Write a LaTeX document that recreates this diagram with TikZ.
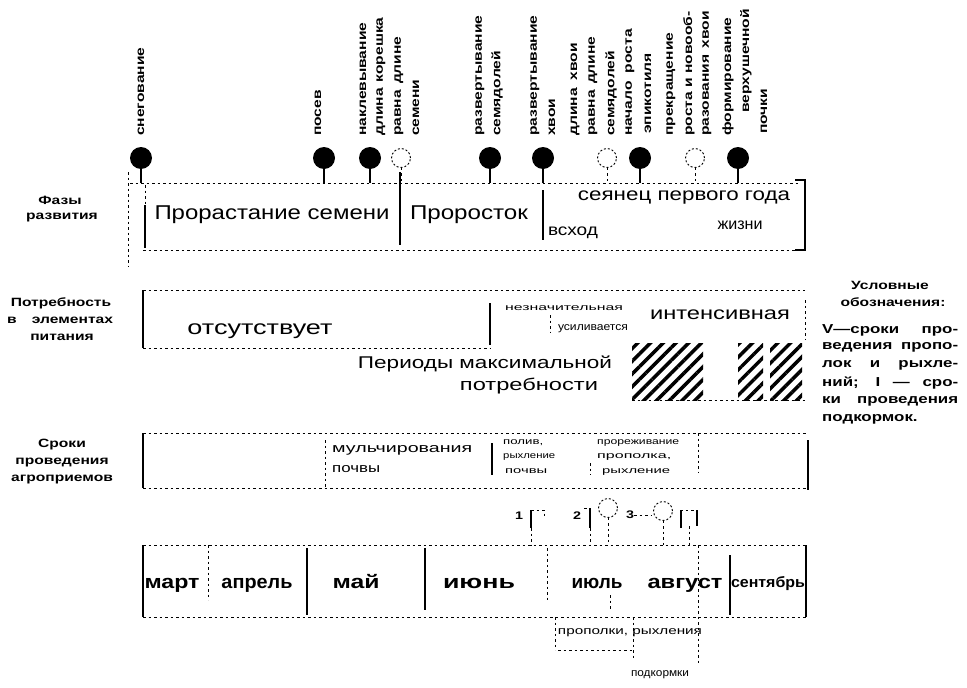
\documentclass[tikz,border=0pt]{standalone}
\usepackage{fontspec}
\setmainfont{Liberation Sans}
\newfontfamily\labf[FakeStretch=1.3]{Liberation Sans}
\usetikzlibrary{patterns.meta}
\newcommand\fw[2]{\resizebox{#1}{\height}{#2}}
\newcommand\fsz[1]{\fontsize{#1}{#1}\selectfont}
\tikzset{
  lab/.style={font=\labf\bfseries\fsz{12}, inner sep=0pt},
  leg/.style={font=\labf\bfseries\fsz{13}, inner sep=0pt, anchor=west},
  rot/.style={lab, rotate=90, anchor=west},
  txt/.style={inner sep=0pt, anchor=base},
  txtw/.style={inner sep=0pt, anchor=base west},
  dl/.style={line width=0.6pt, dash pattern=on 2.5pt off 3pt},
  sl/.style={line width=1.1pt},
  fdot/.style={circle, fill, inner sep=0pt, minimum size=22pt},
  odot/.style={circle, draw, dash pattern=on 2pt off 2pt, line width=0.9pt, inner sep=0pt, minimum size=19pt},
  hatch/.style={pattern={Lines[angle=45,distance=9pt,line width=3.5pt]}},
}
\begin{document}
\begin{tikzpicture}[x=1pt,y=-1pt]
\fill[white] (0,0) rectangle (967,688);
\useasboundingbox (0,0) rectangle (967,688);

% ---------- top rotated labels ----------
\node[rot] (t1) at (141,136) {снегование};
\node[rot] (t2) at (318,136) {посев};
\node[rot] (t3) at (363,136) {наклевывание};
\node[rot] (t4) at (381,136) {длина\hspace{6pt}корешка};
\node[rot] (t5) at (399,136) {равна\hspace{6pt}длине};
\node[rot] (t6) at (416,136) {семени};
\node[rot] (t7) at (480,136) {развертывание};
\node[rot] (t8) at (497,136) {семядолей};
\node[rot] (t9) at (535,136) {развертывание};
\node[rot] (t10) at (552,136) {хвои};
\node[rot] (t11) at (575,136) {длина\hspace{8pt}хвои};
\node[rot] (t12) at (593,136) {равна\hspace{6pt}длине};
\node[rot] (t13) at (611,136) {семядолей};
\node[rot] (t14) at (630,136) {начало\hspace{8pt}роста};
\node[rot] (t15) at (648,134) {эпикотиля};
\node[rot] (t16) at (671,136) {прекращение};
\node[rot] (t17) at (689,136) {роста и новооб-};
\node[rot] (t18) at (707,136) {разования\hspace{6pt}хвои};
\node[rot] (t19) at (728,136) {формирование};
\node[rot] (t20) at (746,113) {верхушечной};
\node[rot] (t21) at (764,134) {почки};

% ---------- circles ----------
\node[fdot] (c1) at (141,158) {};
\node[fdot] (c2) at (324,158) {};
\node[fdot] (c3) at (370,158) {};
\node[odot] (c4) at (401,158) {};
\node[fdot] (c5) at (490,158) {};
\node[fdot] (c6) at (543,158) {};
\node[odot] (c7) at (607,158) {};
\node[fdot] (c8) at (640,158) {};
\node[odot] (c9) at (695,158) {};
\node[fdot] (c10) at (738,158) {};

\coordinate (phT) at (0,183);
\foreach \c in {c1,c2,c3,c5,c6,c8,c10} \draw[sl] (\c.south) -- (\c.south |- phT);
\foreach \c in {c4,c7,c9} \draw[dl] (\c.south) -- (\c.south |- phT);

% ---------- left labels ----------
\node[lab] (f1) at (60,200) {Фазы};
\node[lab] (f2) at (62,218) {развития};
\node[lab] (p1) at (61,303) {Потребность};
\node[lab] (p2) at (60,320) {\makebox[106pt][s]{в элементах}};
\node[lab] (p3) at (62,337) {питания};
\node[lab] (s1) at (62,445) {Сроки};
\node[lab] (s2) at (62,463) {проведения};
\node[lab] (s3) at (62,480) {агроприемов};

% ---------- phases row ----------
\draw[dl] (128,172) -- (128,266);
\draw[dl] (130,183) -- (800,183);
\draw[dl] (143,250) -- (795,250);
\draw[sl] (145,205) -- (145,248);
\draw[dl] (145,185) -- (145,205);
\draw[sl] (400,172) -- (400,245);
\draw[sl] (543,190) -- (543,240);
\draw[sl] (795,180) -- (805,180) -- (805,250) -- (795,250);
\node[txt,font=\fsz{20}] (ph1) at (272,219) {\fw{235pt}{Прорастание семени}};
\node[txt,font=\fsz{20}] (ph2) at (469,219) {\fw{118pt}{Проросток}};
\node[txt,font=\fsz{18}] (ph3) at (684,200) {\fw{212pt}{сеянец первого года}};
\node[txt,font=\fsz{16}] (ph4) at (573,235) {\fw{50pt}{всход}};
\node[txt,font=\fsz{16}] (ph5) at (740,229) {\fw{45pt}{жизни}};

% ---------- needs row ----------
\draw[dl] (143,290) -- (805,290);
\draw[sl] (143,290) -- (143,348);
\draw[dl] (143,348) -- (490,348);
\draw[sl] (490,303) -- (490,345);
\draw[dl] (550,315) -- (550,332);
\draw[dl] (805,300) -- (805,340);
\node[txt,font=\fsz{20}] (n1) at (260,334) {\fw{145pt}{отсутствует}};
\node[txt,font=\fsz{9}] (n2) at (564,310) {\fw{118pt}{незначительная}};
\node[txt,font=\fsz{11}] (n3) at (593,330) {\fw{70pt}{усиливается}};
\node[txt,font=\fsz{18}] (n4) at (720,319) {\fw{140pt}{интенсивная}};
\fill[hatch] (632,343) rectangle (703,400);
\fill[hatch] (738,343) rectangle (763,400);
\fill[hatch] (770,343) rectangle (802,400);
\draw[dl] (632,400) -- (805,400);
\node[txt,font=\fsz{17}] (m1) at (485,368) {\fw{254pt}{Периоды максимальной}};
\node[txt,font=\fsz{17}] (m2) at (529,390) {\fw{138pt}{потребности}};

% ---------- legend ----------
\node[lab] (g1) at (890,285) {Условные};
\node[lab] (g2) at (893,302) {обозначения:};
\node[leg] (g3) at (822,330) {\makebox[136pt][s]{V—сроки про-}};
\node[leg] (g4) at (822,347) {\makebox[136pt][s]{ведения пропо-}};
\node[leg] (g5) at (822,365) {\makebox[136pt][s]{лок и рыхле-}};
\node[leg] (g6) at (822,383) {\makebox[136pt][s]{ний; I — сро-}};
\node[leg] (g7) at (822,401) {\makebox[136pt][s]{ки проведения}};
\node[leg] (g8) at (822,419) {подкормок.};

% ---------- agro row ----------
\draw[dl] (143,433) -- (808,433);
\draw[sl] (143,433) -- (143,488);
\draw[dl] (143,488) -- (808,488);
\draw[dl] (325,440) -- (325,487);
\draw[sl] (492,443) -- (492,475);
\draw[dl] (590,463) -- (590,475);
\draw[dl] (698,433) -- (698,473);
\draw[sl] (808,440) -- (808,490);
\node[txtw,font=\fsz{13}] (a1) at (332,452) {\fw{140pt}{мульчирования}};
\node[txtw,font=\fsz{13}] (a2) at (332,472) {\fw{48pt}{почвы}};
\node[txtw,font=\fsz{9}] (a3) at (503,444) {\fw{40pt}{полив,}};
\node[txtw,font=\fsz{9}] (a4) at (503,458) {\fw{52pt}{рыхление}};
\node[txtw,font=\fsz{9}] (a5) at (505,473) {\fw{42pt}{почвы}};
\node[txtw,font=\fsz{9}] (a6) at (597,444) {\fw{82pt}{прореживание}};
\node[txtw,font=\fsz{9}] (a7) at (597,458) {\fw{74pt}{прополка,}};
\node[txtw,font=\fsz{9}] (a8) at (602,473) {\fw{68pt}{рыхление}};

% ---------- markers ----------
\coordinate (moT) at (0,545);
\node[lab,font=\labf\bfseries\fsz{11}] (k1) at (519,516) {1};
\coordinate (b1) at (531,528);
\draw[sl] (b1) -- (531,510);
\draw[dl] (531,510) -- (544,510) -- (544,518);
\node[lab,font=\labf\bfseries\fsz{11}] (k2) at (577,516) {2};
\coordinate (b2) at (590,528);
\draw[sl] (b2) -- (590,508);
\draw[dl] (584,508) -- (590,508);
\node[odot] (o1) at (608,508) {};
\node[lab,font=\labf\bfseries\fsz{11}] (k3) at (630,515) {3};
\draw[dl] (k3.east) -- (652,515);
\node[odot] (o2) at (663,511) {};
\draw[dl] (680,510) -- (697,510);
\draw[sl] (681,510) -- (681,528);
\draw[sl] (697,510) -- (697,526);
\draw[dl] (b1) -- (b1 |- moT);
\draw[dl] (b2) -- (b2 |- moT);
\draw[dl] (o1.south) -- (o1.south |- moT);
\draw[dl] (o2.south) -- (o2.south |- moT);
\draw[dl] (689,526) -- (689,545);

% ---------- months row ----------
\draw[dl] (143,545) -- (808,545);
\draw[dl] (143,617) -- (808,617);
\draw[sl] (143,545) -- (143,617);
\draw[dl] (208,545) -- (208,600);
\draw[sl] (307,548) -- (307,615);
\draw[sl] (425,548) -- (425,610);
\draw[dl] (547,548) -- (547,600);
\draw[dl] (610,595) -- (610,610);
\draw[dl] (698,545) -- (698,665);
\draw[sl] (730,555) -- (730,615);
\draw[sl] (806,545) -- (806,617);
\node[txt,font=\bfseries\fsz{19}] (mo1) at (172,588) {\fw{55pt}{март}};
\node[txt,font=\bfseries\fsz{19}] (mo2) at (257,588) {\fw{71pt}{апрель}};
\node[txt,font=\bfseries\fsz{19}] (mo3) at (356,588) {\fw{47pt}{май}};
\node[txt,font=\bfseries\fsz{19}] (mo4) at (479,588) {\fw{72pt}{июнь}};
\node[txt,font=\bfseries\fsz{19}] (mo5) at (597,588) {\fw{51pt}{июль}};
\node[txt,font=\bfseries\fsz{19}] (mo6) at (685,588) {\fw{75pt}{август}};
\node[txt,font=\bfseries\fsz{15}] (mo7) at (768,587) {\fw{74pt}{сентябрь}};

% ---------- bottom ----------
\draw[dl] (555,617) -- (555,650);
\draw[dl] (633,617) -- (633,660);
\draw[dl] (558,650) -- (633,650);
\node[txt,font=\fsz{11}] (w1) at (630,634) {\fw{144pt}{прополки, рыхления}};
\node[txt,font=\fsz{11}] (w2) at (660,676) {\fw{58pt}{подкормки}};
\end{tikzpicture}
\end{document}
